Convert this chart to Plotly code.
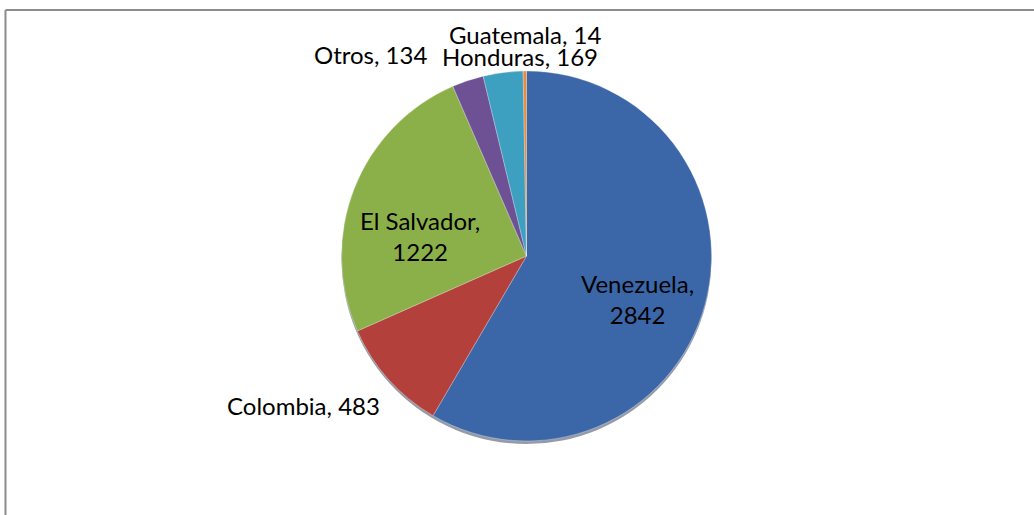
import plotly.graph_objects as go

# Country breakdown
paises = ["Venezuela", "Colombia", "El Salvador", "Otros", "Honduras", "Guatemala"]
valores = [2842, 483, 1222, 134, 169, 14]
colores = ["#3b67a9", "#b4403c", "#8cb049", "#6e5195", "#3ea0c0", "#eb8b3d"]

W, H = 1034, 515
cx, cy, r = 526.5, 256, 185  # pie centre / radius in pixels

# label anchor points in pixels (x, y from top) and whether the label wraps
label_pos = {
    "Venezuela": (637, 299, True),
    "Colombia": (303, 405, False),
    "El Salvador": (420, 236, True),
    "Otros": (370, 55, False),
    "Honduras": (520, 56, False),
    "Guatemala": (525, 35, False),
}

def px_domain(x0, x1, y0, y1):
    return dict(x=[x0 / W, x1 / W], y=[1 - y1 / H, 1 - y0 / H])

fig = go.Figure()

# soft shadow under the pie
fig.add_trace(go.Pie(
    values=[sum(valores)],
    labels=["sombra"],
    marker=dict(colors=["rgba(20,30,60,0.45)"], line=dict(width=0)),
    domain=px_domain(cx - r, cx + r, cy - r + 3, cy + r + 3),
    textinfo="none", hoverinfo="skip", showlegend=False, sort=False,
))

fig.add_trace(go.Pie(
    values=valores,
    labels=paises,
    marker=dict(colors=colores, line=dict(width=0.6, color="rgba(255,255,255,0.5)")),
    domain=px_domain(cx - r, cx + r, cy - r, cy + r),
    direction="clockwise",
    rotation=0,
    sort=False,
    textinfo="none",
    showlegend=False,
))

for pais, val in zip(paises, valores):
    x, y, wrap = label_pos[pais]
    sep = ",<br>" if wrap else ", "
    fig.add_annotation(
        x=x / W, y=1 - y / H, xref="paper", yref="paper",
        text=f"{pais}{sep}{val}", showarrow=False,
        xanchor="center", yanchor="middle",
        font=dict(family="Lato, Carlito, sans-serif", size=24, color="#000000"),
    )

# chart frame (top and left edges)
frame = dict(color="#8c8c8c", width=2)
fig.add_shape(type="line", xref="paper", yref="paper",
              x0=5.5 / W, x1=1, y0=1 - 10 / H, y1=1 - 10 / H, line=frame)
fig.add_shape(type="line", xref="paper", yref="paper",
              x0=5.5 / W, x1=5.5 / W, y0=1 - 10 / H, y1=0, line=frame)

fig.update_layout(
    width=W, height=H,
    margin=dict(l=0, r=0, t=0, b=0),
    paper_bgcolor="white", plot_bgcolor="white",
    showlegend=False,
)

fig.write_html("out.html")
